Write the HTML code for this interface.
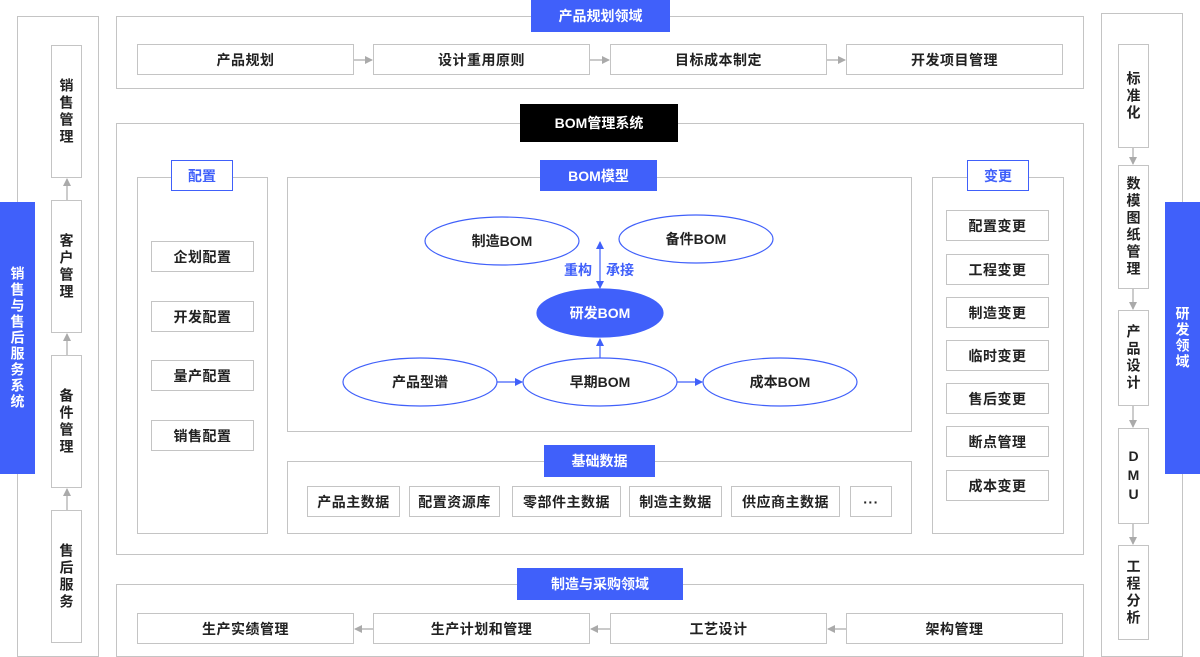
<!DOCTYPE html>
<html><head><meta charset="utf-8"><style>
*{margin:0;padding:0;box-sizing:border-box}
body{width:1200px;height:657px;position:relative;background:#fff;font-family:"Liberation Sans","Noto Sans CJK SC",sans-serif;overflow:hidden}
.b{position:absolute;border:1.5px solid #c4c4c4;background:#fff}
.t{position:absolute;border:1.5px solid #c4c4c4;background:#fff;display:flex;align-items:center;justify-content:center;font-size:14px;font-weight:bold;color:#222;letter-spacing:0.5px}
.v{position:absolute;border:1.5px solid #c4c4c4;background:#fff;display:flex;align-items:center;justify-content:center;font-size:14px;font-weight:bold;color:#222;writing-mode:vertical-rl;text-orientation:upright;letter-spacing:3px}
.L{position:absolute;background:#4060fa;color:#fff;display:flex;align-items:center;justify-content:center;font-size:14px;font-weight:bold}
.O{position:absolute;background:#fff;border:1.5px solid #4060fa;color:#4060fa;display:flex;align-items:center;justify-content:center;font-size:14px;font-weight:bold}
.BV{position:absolute;background:#4060fa;color:#fff;display:flex;align-items:center;justify-content:center;font-size:14px;font-weight:bold;writing-mode:vertical-rl;text-orientation:upright;letter-spacing:2px}
svg{position:absolute;left:0;top:0}
</style></head><body>
<!-- left -->
<div class="b" style="left:17px;top:16px;width:82px;height:641px"></div>
<div class="v" style="left:51px;top:45px;width:31px;height:133px">销售管理</div>
<div class="v" style="left:51px;top:200px;width:31px;height:133px">客户管理</div>
<div class="v" style="left:51px;top:355px;width:31px;height:133px">备件管理</div>
<div class="v" style="left:51px;top:510px;width:31px;height:133px">售后服务</div>
<div class="BV" style="left:0;top:202px;width:35px;height:272px">销售与售后服务系统</div>
<!-- right -->
<div class="b" style="left:1101px;top:13px;width:82px;height:644px"></div>
<div class="v" style="left:1118px;top:44px;width:31px;height:104px">标准化</div>
<div class="v" style="left:1118px;top:165px;width:31px;height:124px">数模图纸管理</div>
<div class="v" style="left:1118px;top:310px;width:31px;height:96px">产品设计</div>
<div class="v" style="left:1118px;top:428px;width:31px;height:96px">DMU</div>
<div class="v" style="left:1118px;top:545px;width:31px;height:95px">工程分析</div>
<div class="BV" style="left:1165px;top:202px;width:35px;height:272px">研发领域</div>
<!-- top -->
<div class="b" style="left:116px;top:16px;width:968px;height:73px"></div>
<div class="L" style="left:531px;top:0;width:139px;height:32px">产品规划领域</div>
<div class="t" style="left:137px;top:44px;width:217px;height:31px">产品规划</div>
<div class="t" style="left:373px;top:44px;width:217px;height:31px">设计重用原则</div>
<div class="t" style="left:610px;top:44px;width:217px;height:31px">目标成本制定</div>
<div class="t" style="left:846px;top:44px;width:217px;height:31px">开发项目管理</div>
<!-- BOM system -->
<div class="b" style="left:116px;top:123px;width:968px;height:432px"></div>
<div class="L" style="left:520px;top:104px;width:158px;height:38px;background:#000">BOM管理系统</div>
<div class="b" style="left:137px;top:177px;width:131px;height:357px"></div>
<div class="O" style="left:171px;top:160px;width:62px;height:31px">配置</div>
<div class="t" style="left:151px;top:241px;width:103px;height:31px">企划配置</div>
<div class="t" style="left:151px;top:301px;width:103px;height:31px">开发配置</div>
<div class="t" style="left:151px;top:360px;width:103px;height:31px">量产配置</div>
<div class="t" style="left:151px;top:420px;width:103px;height:31px">销售配置</div>
<div class="b" style="left:287px;top:177px;width:625px;height:255px"></div>
<div class="b" style="left:287px;top:461px;width:625px;height:73px"></div>
<div class="L" style="left:544px;top:445px;width:111px;height:32px">基础数据</div>
<div class="t" style="left:307px;top:486px;width:93px;height:31px">产品主数据</div>
<div class="t" style="left:409px;top:486px;width:91px;height:31px">配置资源库</div>
<div class="t" style="left:512px;top:486px;width:109px;height:31px">零部件主数据</div>
<div class="t" style="left:629px;top:486px;width:93px;height:31px">制造主数据</div>
<div class="t" style="left:731px;top:486px;width:109px;height:31px">供应商主数据</div>
<div class="t" style="left:850px;top:486px;width:42px;height:31px">···</div>
<div class="b" style="left:932px;top:177px;width:132px;height:357px"></div>
<div class="O" style="left:967px;top:160px;width:62px;height:31px">变更</div>
<div class="t" style="left:946px;top:210px;width:103px;height:31px">配置变更</div>
<div class="t" style="left:946px;top:254px;width:103px;height:31px">工程变更</div>
<div class="t" style="left:946px;top:297px;width:103px;height:31px">制造变更</div>
<div class="t" style="left:946px;top:340px;width:103px;height:31px">临时变更</div>
<div class="t" style="left:946px;top:383px;width:103px;height:31px">售后变更</div>
<div class="t" style="left:946px;top:426px;width:103px;height:31px">断点管理</div>
<div class="t" style="left:946px;top:470px;width:103px;height:31px">成本变更</div>
<!-- bottom -->
<div class="b" style="left:116px;top:584px;width:968px;height:73px"></div>
<div class="L" style="left:517px;top:568px;width:166px;height:32px">制造与采购领域</div>
<div class="t" style="left:137px;top:613px;width:217px;height:31px">生产实绩管理</div>
<div class="t" style="left:373px;top:613px;width:217px;height:31px">生产计划和管理</div>
<div class="t" style="left:610px;top:613px;width:217px;height:31px">工艺设计</div>
<div class="t" style="left:846px;top:613px;width:217px;height:31px">架构管理</div>
<svg width="1200" height="657" viewBox="0 0 1200 657">
<defs>
<marker id="g" markerWidth="8" markerHeight="8" refX="7" refY="4" orient="auto" markerUnits="userSpaceOnUse"><path d="M0,0 L8,4 L0,8z" fill="#aaa"/></marker>
<marker id="bl" markerWidth="8" markerHeight="8" refX="7" refY="4" orient="auto" markerUnits="userSpaceOnUse"><path d="M0,0 L8,4 L0,8z" fill="#4060fa"/></marker>
</defs>
<g stroke="#aaa" stroke-width="1.2" fill="none" marker-end="url(#g)">
<line x1="354" y1="60" x2="372" y2="60"/><line x1="590" y1="60" x2="609" y2="60"/><line x1="827" y1="60" x2="845" y2="60"/>
<line x1="373" y1="629" x2="355" y2="629"/><line x1="610" y1="629" x2="591" y2="629"/><line x1="846" y1="629" x2="828" y2="629"/>
<line x1="67" y1="200" x2="67" y2="179"/><line x1="67" y1="355" x2="67" y2="334"/><line x1="67" y1="510" x2="67" y2="489"/>
<line x1="1133" y1="148" x2="1133" y2="164"/><line x1="1133" y1="289" x2="1133" y2="309"/><line x1="1133" y1="406" x2="1133" y2="427"/><line x1="1133" y1="524" x2="1133" y2="544"/>
</g>
<g stroke="#4060fa" stroke-width="1.2" fill="#fff">
<ellipse cx="502" cy="241" rx="77" ry="24"/>
<ellipse cx="696" cy="239" rx="77" ry="24"/>
<ellipse cx="420" cy="382" rx="77" ry="24"/>
<ellipse cx="600" cy="382" rx="77" ry="24"/>
<ellipse cx="780" cy="382" rx="77" ry="24"/>
<ellipse cx="600" cy="313" rx="63" ry="24" fill="#4060fa"/>
</g>
<g stroke="#4060fa" stroke-width="1.2" fill="none">
<line x1="600" y1="256" x2="600" y2="242" marker-end="url(#bl)"/>
<line x1="600" y1="256" x2="600" y2="288" marker-end="url(#bl)"/>
<line x1="600" y1="358" x2="600" y2="339" marker-end="url(#bl)"/>
<line x1="497" y1="382" x2="522" y2="382" marker-end="url(#bl)"/>
<line x1="677" y1="382" x2="702" y2="382" marker-end="url(#bl)"/>
</g>
<g font-family="Liberation Sans,Noto Sans CJK SC,sans-serif" font-size="14" font-weight="bold" text-anchor="middle" fill="#222">
<text x="502" y="246">制造BOM</text>
<text x="696" y="244">备件BOM</text>
<text x="420" y="387">产品型谱</text>
<text x="600" y="387">早期BOM</text>
<text x="780" y="387">成本BOM</text>
<text x="600" y="318" fill="#fff">研发BOM</text>
<text x="578" y="275" fill="#4060fa">重构</text>
<text x="620" y="275" fill="#4060fa">承接</text>
</g>
</svg>
<div class="L" style="left:540px;top:160px;width:117px;height:31px">BOM模型</div>
</body></html>
